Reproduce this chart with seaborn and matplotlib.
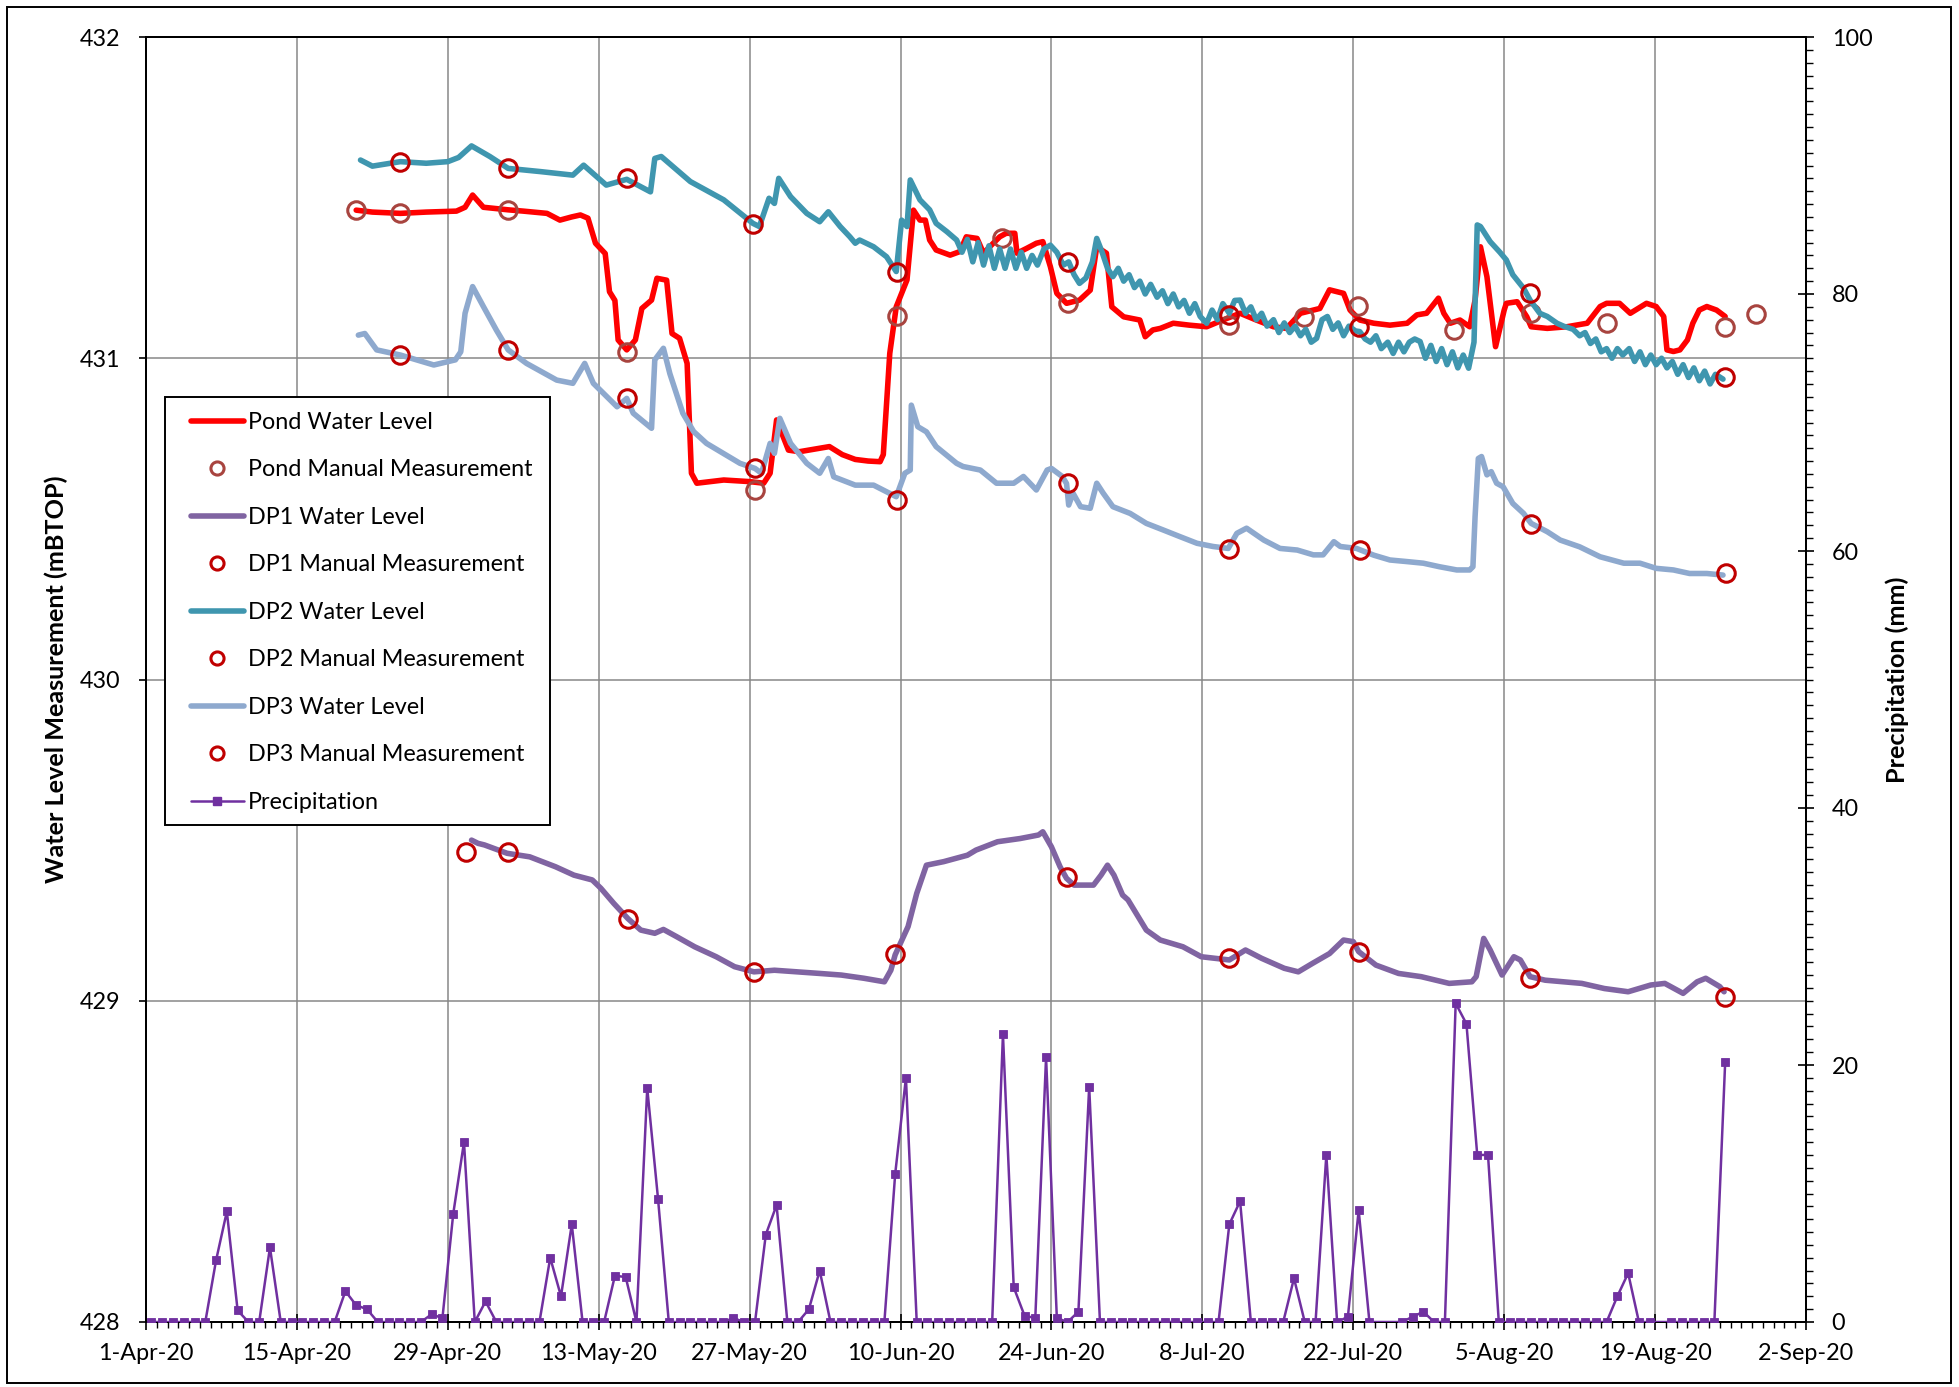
import numpy as np
import pandas as pd
import matplotlib
matplotlib.use("Agg")
import matplotlib.pyplot as plt
import matplotlib.dates as mdates
from matplotlib.lines import Line2D
from matplotlib.patches import Rectangle
from matplotlib.ticker import FixedLocator, MultipleLocator, FormatStrFormatter
import seaborn as sns

# ------------------------------------------------------------------ data
START = pd.Timestamp("2020-04-01")
X_END_DAYS = 154
TICK_STEP_DAYS = 14

# daily precipitation (mm); index 0 = 1-Apr-20 ; nan = no reading
precip_mm = [
    0, 0, 0, 0, 0, 0, 4.8, 8.6, 0.9, 0, 0, 5.8, 0, 0,            # d0-13
    0, 0, 0, 0, 2.4, 1.3, 1.0, 0, 0, 0, 0, 0, 0.6, 0.3,          # d14-27
    8.4, 14.0, 0, 1.6, 0, 0, 0, 0, 0, 5.0, 2.0, 7.6, 0, 0,       # d28-41
    0, 3.6, 3.5, 0, 18.2, 9.6, 0, 0, 0, 0, 0, 0, 0.3, 0,         # d42-55
    0, 6.8, 9.1, 0, 0, 1.0, 4.0, 0, 0, 0, 0, 0, 0, 11.5,         # d56-69
    19.0, 0, 0, 0, 0, 0, 0, 0, 0, 22.4, 2.7, 0.5, 0.3, 20.6,     # d70-83
    0.3, 0, 0.8, 18.3, 0, 0, 0, 0, 0, 0, 0, 0, 0, 0,             # d84-97
    0, 0, 7.6, 9.4, 0, 0, 0, 0, 3.4, 0, 0, 13.0, 0, 0.4,         # d98-111
    8.7, 0, np.nan, np.nan, 0, 0.4, 0.8, 0, 0, 24.8, 23.2, 13.0, 13.0, 0,  # d112-125
    0, 0, 0, 0, 0, 0, 0, 0, 0, 0, 2.0, 3.8, 0, 0,                # d126-139
    np.nan, 0, 0, 0, 0, 0, 20.2,                                 # d140-146
]

pond_day = [19.5, 21, 23.6, 26, 28.8, 29.6, 30.3, 31.3, 33.6, 35, 37.2, 38.4, 39.5, 40.3,
            41.0, 41.7, 42.6, 43.0, 43.5, 43.8, 44.6, 45.4, 46.0, 46.9, 47.4, 48.3, 48.8,
            49.5, 50.2, 50.6, 51.1, 53.6, 56.0, 57.3, 57.9, 58.5, 59.6, 60.6, 63.4, 64.6,
            65.8, 67.0, 68.1, 68.4, 69.0, 69.6, 70.6, 71.2, 71.8, 72.3, 72.7, 73.3, 74.6,
            75.5, 76.1, 77.1, 77.7, 78.6, 79.2, 79.8, 80.6, 80.8, 81.7, 82.6, 83.2, 83.9,
            84.5, 85.4, 86.6, 87.6, 88.2, 89.1, 89.6, 90.7, 92.2, 92.7, 93.4, 94.1, 95.3,
            96.8, 98.4, 99.9, 101.5, 103.0, 104.6, 105.8, 107.1, 108.9, 109.8, 111.1, 111.7,
            112.6, 113.9, 115.4, 117.0, 117.9, 118.8, 119.9, 120.4, 121.0, 121.9, 122.8,
            123.3, 123.8, 124.4, 125.2, 126.0, 126.2, 127.2, 128.1, 128.5, 130.0, 131.8,
            133.7, 134.9, 135.5, 136.7, 137.7, 139.2, 140.1, 140.8, 141.1, 141.7, 142.3,
            143.0, 143.5, 144.1, 144.8, 145.7, 146.5]
pond_level = [431.461, 431.455, 431.451, 431.455, 431.458, 431.470, 431.508, 431.470, 431.462,
              431.458, 431.451, 431.430, 431.440, 431.446, 431.436, 431.358, 431.326, 431.207,
              431.180, 431.057, 431.026, 431.057, 431.155, 431.181, 431.249, 431.243, 431.077,
              431.062, 430.984, 430.642, 430.611, 430.621, 430.616, 430.611, 430.642, 430.808,
              430.714, 430.709, 430.725, 430.700, 430.685, 430.680, 430.678, 430.700, 431.015,
              431.160, 431.244, 431.461, 431.430, 431.430, 431.368, 431.337, 431.321, 431.332,
              431.378, 431.373, 431.327, 431.358, 431.378, 431.389, 431.389, 431.327, 431.342,
              431.358, 431.363, 431.285, 431.202, 431.171, 431.181, 431.212, 431.347, 431.327,
              431.160, 431.129, 431.119, 431.067, 431.088, 431.093, 431.109, 431.103, 431.098,
              431.119, 431.140, 431.119, 431.098, 431.093, 431.140, 431.155, 431.213, 431.202,
              431.150, 431.119, 431.109, 431.103, 431.109, 431.135, 431.140, 431.187, 431.140,
              431.109, 431.119, 431.098, 431.181, 431.347, 431.254, 431.036, 431.150, 431.171,
              431.176, 431.129, 431.098, 431.093, 431.098, 431.109, 431.161, 431.171, 431.171,
              431.140, 431.171, 431.161, 431.130, 431.026, 431.021, 431.026, 431.057, 431.109,
              431.150, 431.161, 431.150, 431.130]

dp1_day = [30.2, 30.8, 31.4, 33.5, 35.6, 38.0, 39.7, 41.4, 42.2, 43.4, 44.7, 45.9, 47.2, 48.0,
           49.2, 50.9, 52.9, 54.6, 56.4, 58.3, 60.4, 62.5, 64.5, 66.6, 68.5, 69.1, 69.5, 70.7,
           71.5, 72.4, 74.0, 76.2, 77.0, 79.0, 81.1, 82.8, 83.2, 84.0, 84.8, 85.4, 86.1, 87.9,
           88.6, 89.2, 89.8, 90.6, 91.1, 92.8, 94.1, 96.2, 97.9, 100.5, 102.0, 103.5, 105.6,
           106.9, 108.2, 109.8, 111.1, 112.0, 112.5, 114.1, 116.2, 118.3, 120.9, 123.0, 123.4,
           124.1, 124.7, 125.8, 126.9, 127.5, 128.4, 129.8, 133.2, 135.3, 137.5, 139.6, 140.9,
           142.6, 143.9, 144.7, 146.0, 146.4]
dp1_level = [429.500, 429.490, 429.485, 429.459, 429.448, 429.417, 429.391, 429.376, 429.350,
             429.303, 429.256, 429.220, 429.210, 429.222, 429.200, 429.168, 429.137, 429.106,
             429.090, 429.095, 429.090, 429.085, 429.080, 429.070, 429.059, 429.095, 429.143,
             429.231, 429.334, 429.422, 429.433, 429.453, 429.469, 429.495, 429.505, 429.516,
             429.526, 429.479, 429.417, 429.381, 429.360, 429.360, 429.391, 429.422, 429.391,
             429.329, 429.314, 429.220, 429.189, 429.168, 429.137, 429.127, 429.158, 429.132,
             429.101, 429.090, 429.116, 429.147, 429.189, 429.184, 429.153, 429.111, 429.085,
             429.075, 429.054, 429.059, 429.075, 429.194, 429.158, 429.080, 429.137, 429.127,
             429.075, 429.064, 429.054, 429.038, 429.028, 429.049, 429.054, 429.023, 429.059,
             429.070, 429.044, 429.028]

dp2_day = [19.9, 21.0, 23.6, 26.0, 28.0, 29.0, 30.2, 31.9, 33.6, 36.6, 39.6, 40.6, 42.7, 44.6,
           46.8, 47.2, 47.8, 50.5, 53.6, 56.3, 56.9, 57.8, 58.3, 58.7, 59.8, 61.3, 62.5, 63.3,
           64.4, 65.3, 65.8, 66.2, 67.5, 68.7, 69.6, 70.1, 70.6, 70.9, 71.8, 72.7, 73.3, 74.3,
           75.2, 75.7, 76.2, 76.7, 77.2, 77.7, 78.2, 78.7, 79.2, 79.7, 80.2, 80.7, 81.2, 81.7,
           82.2, 82.7, 83.3, 83.9, 84.5, 85.1, 85.6, 86.1, 86.6, 87.2, 87.8, 88.2, 88.7, 89.2,
           89.7, 90.2, 90.7, 91.2, 91.7, 92.2, 92.7, 93.2, 93.8, 94.3, 94.8, 95.3, 95.8, 96.3,
           96.8, 97.3, 97.8, 98.4, 98.9, 99.4, 99.9, 100.5, 101.0, 101.5, 102.0, 102.5, 103.0,
           103.5, 104.0, 104.6, 105.1, 105.6, 106.1, 106.6, 107.1, 107.6, 108.1, 108.6, 109.1,
           109.6, 110.1, 110.6, 111.1, 111.6, 112.2, 112.6, 113.1, 113.6, 114.1, 114.6, 115.2,
           115.7, 116.2, 116.7, 117.2, 117.7, 118.2, 118.7, 119.2, 119.7, 120.2, 120.7, 121.2,
           121.7, 122.2, 122.7, 123.2, 123.5, 123.8, 124.7, 125.6, 126.2, 126.8, 127.8, 128.4,
           129.3, 130.0, 130.9, 131.5, 132.4, 133.0, 133.5, 134.0, 134.5, 135.0, 135.5, 136.0,
           136.5, 137.0, 137.6, 138.1, 138.6, 139.1, 139.6, 140.1, 140.6, 141.1, 141.6, 142.1,
           142.6, 143.1, 143.6, 144.1, 144.6, 145.1, 145.6, 146.3]
dp2_level = [431.617, 431.598, 431.612, 431.607, 431.612, 431.625, 431.661, 431.628, 431.591,
             431.581, 431.570, 431.601, 431.539, 431.557, 431.518, 431.622, 431.628, 431.550,
             431.493, 431.420, 431.410, 431.498, 431.482, 431.560, 431.503, 431.451, 431.425,
             431.456, 431.410, 431.378, 431.358, 431.368, 431.347, 431.316, 431.270, 431.430,
             431.410, 431.555, 431.493, 431.462, 431.420, 431.394, 431.368, 431.33, 431.37,
             431.30, 431.36, 431.29, 431.35, 431.28, 431.34, 431.28, 431.34, 431.28, 431.33,
             431.28, 431.32, 431.29, 431.34, 431.352, 431.33, 431.29, 431.30, 431.26, 431.233,
             431.25, 431.30, 431.373, 431.33, 431.28, 431.254, 431.28, 431.24, 431.26, 431.22,
             431.24, 431.20, 431.23, 431.19, 431.21, 431.17, 431.20, 431.16, 431.18, 431.14,
             431.17, 431.13, 431.109, 431.15, 431.12, 431.17, 431.14, 431.18, 431.181, 431.14,
             431.16, 431.12, 431.14, 431.10, 431.12, 431.08, 431.11, 431.08, 431.10, 431.07,
             431.09, 431.05, 431.062, 431.12, 431.13, 431.09, 431.11, 431.07, 431.10, 431.085,
             431.083, 431.06, 431.05, 431.07, 431.03, 431.05, 431.015, 431.05, 431.02, 431.05,
             431.06, 431.052, 431.00, 431.04, 430.99, 431.03, 430.98, 431.02, 430.97, 431.01,
             430.969, 431.05, 431.415, 431.41, 431.363, 431.33, 431.306, 431.26, 431.218,
             431.181, 431.14, 431.13, 431.109, 431.10, 431.09, 431.07, 431.08, 431.046, 431.06,
             431.02, 431.03, 431.00, 431.03, 431.01, 431.03, 430.99, 431.02, 430.98, 431.01,
             430.98, 431.00, 430.97, 430.99, 430.95, 430.98, 430.94, 430.97, 430.93, 430.96,
             430.92, 430.95, 430.935]

dp3_day = [19.7, 20.3, 21.4, 23.6, 26.7, 28.7, 29.2, 29.6, 30.3, 31.3, 32.5, 33.6, 35.3, 38.1,
           39.6, 40.7, 41.5, 43.7, 44.6, 45.2, 46.9, 47.2, 48.0, 48.6, 49.8, 50.8, 52.0, 55.1,
           56.5, 57.1, 57.9, 58.3, 58.8, 59.8, 61.3, 62.5, 63.3, 63.8, 65.8, 67.5, 69.6, 70.4,
           70.9, 71.0, 71.6, 72.4, 73.3, 75.2, 75.8, 77.4, 78.9, 80.5, 81.4, 82.6, 83.6, 84.0,
           85.0, 85.4, 85.6, 86.0, 86.7, 87.6, 88.2, 88.8, 89.7, 91.3, 92.8, 94.4, 95.9, 97.5,
           99.0, 100.4, 101.2, 102.1, 103.7, 105.2, 106.8, 108.3, 109.2, 110.2, 110.8, 112.3,
           113.9, 115.4, 117.0, 118.5, 120.0, 121.6, 122.8, 123.1, 123.3, 123.6, 123.9, 124.4,
           124.8, 125.3, 125.9, 126.8, 127.8, 128.5, 130.0, 131.2, 133.0, 134.9, 137.1, 138.6,
           140.1, 141.7, 143.2, 144.8, 146.3]
dp3_level = [431.072, 431.077, 431.026, 431.010, 430.979, 430.995, 431.020, 431.140, 431.223,
             431.161, 431.088, 431.026, 430.984, 430.932, 430.922, 430.984, 430.922, 430.849,
             430.875, 430.829, 430.782, 430.995, 431.031, 430.952, 430.829, 430.772, 430.735,
             430.673, 430.657, 430.642, 430.735, 430.704, 430.813, 430.735, 430.673, 430.642,
             430.688, 430.631, 430.605, 430.605, 430.569, 430.642, 430.652, 430.854, 430.787,
             430.771, 430.725, 430.673, 430.663, 430.652, 430.611, 430.611, 430.632, 430.590,
             430.652, 430.657, 430.632, 430.610, 430.543, 430.580, 430.538, 430.533, 430.611,
             430.580, 430.538, 430.517, 430.486, 430.465, 430.445, 430.424, 430.414, 430.408,
             430.455, 430.471, 430.434, 430.408, 430.403, 430.388, 430.388, 430.429, 430.414,
             430.408, 430.387, 430.372, 430.367, 430.362, 430.351, 430.341, 430.341, 430.351,
             430.507, 430.688, 430.694, 430.637, 430.647, 430.611, 430.600, 430.548, 430.517,
             430.486, 430.460, 430.434, 430.413, 430.382, 430.362, 430.362, 430.346, 430.341,
             430.330, 430.330, 430.325]

pond_manual_day = [19.5, 23.6, 33.6, 44.6, 56.5, 69.7, 79.4, 85.5, 100.5, 107.4, 112.4, 121.3,
                   128.5, 135.5, 146.5, 149.4]
pond_manual = [431.461, 431.451, 431.461, 431.021, 430.590, 431.130, 431.373, 431.171, 431.103,
               431.127, 431.163, 431.088, 431.140, 431.109, 431.098, 431.138]
dp1_manual_day = [29.7, 33.6, 44.7, 56.4, 69.5, 85.4, 100.5, 112.5, 128.4, 146.5]
dp1_manual = [429.464, 429.464, 429.253, 429.091, 429.145, 429.384, 429.132, 429.153, 429.070,
              429.013]
dp2_manual_day = [23.6, 33.6, 44.6, 56.3, 69.7, 85.5, 100.5, 112.5, 128.4, 146.5]
dp2_manual = [431.612, 431.591, 431.560, 431.418, 431.270, 431.301, 431.135, 431.098, 431.202,
              430.941]
dp3_manual_day = [23.6, 33.6, 44.6, 56.5, 69.7, 85.5, 100.5, 112.6, 128.5, 146.6]
dp3_manual = [431.010, 431.026, 430.875, 430.657, 430.559, 430.612, 430.405, 430.403, 430.484,
              430.332]

labels = ["Pond Water Level", "Pond Manual Measurement", "DP1 Water Level",
          "DP1 Manual Measurement", "DP2 Water Level", "DP2 Manual Measurement",
          "DP3 Water Level", "DP3 Manual Measurement", "Precipitation"]

# ------------------------------------------------------------------ style
C_POND = "#FF0000"
C_POND_M = "#A8443F"
C_DP1 = "#8064A2"
C_MAN = "#C00000"
C_DP2 = "#3F96AF"
C_DP3 = "#8EA9CE"
C_PRE = "#7030A0"
C_GRID = "#878787"

sns.set_theme(style="ticks")
plt.rcParams["font.family"] = ["Lato", "DejaVu Sans"]
plt.rcParams["text.color"] = "black"
plt.rcParams["axes.labelcolor"] = "black"
plt.rcParams["xtick.color"] = "black"
plt.rcParams["ytick.color"] = "black"

FS = 16.8
FS_LAB = 18.2
LW = 4.0
MS = 12.6
MEW = 2.2

W, H = 1959, 1387
fig = plt.figure(figsize=(W / 100, H / 100), dpi=100)
ax = fig.add_axes([146 / W, 1 - 1322 / H, 1660 / W, 1285 / H])


def to_dates(days):
    return START + pd.to_timedelta(np.asarray(days, dtype=float), unit="D")


def level_line(days, vals, color, z):
    sns.lineplot(x=to_dates(days), y=vals, ax=ax, color=color, lw=LW,
                 estimator=None, sort=False, zorder=z, legend=False)


def manual_pts(days, vals, color, z):
    sns.lineplot(x=to_dates(days), y=vals, ax=ax, color=color, linestyle="none",
                 marker="o", markersize=MS, markerfacecolor="none",
                 markeredgecolor=color, markeredgewidth=MEW,
                 estimator=None, sort=False, zorder=z, legend=False)


level_line(pond_day, pond_level, C_POND, 3)
manual_pts(pond_manual_day, pond_manual, C_POND_M, 4)
level_line(dp1_day, dp1_level, C_DP1, 5)
manual_pts(dp1_manual_day, dp1_manual, C_MAN, 6)
level_line(dp2_day, dp2_level, C_DP2, 7)
manual_pts(dp2_manual_day, dp2_manual, C_MAN, 8)
level_line(dp3_day, dp3_level, C_DP3, 9)
manual_pts(dp3_manual_day, dp3_manual, C_MAN, 10)

ax2 = ax.twinx()
pre = pd.DataFrame({"day": np.arange(len(precip_mm)) + 0.5, "mm": precip_mm}).dropna()
sns.lineplot(x=to_dates(pre["day"]), y=pre["mm"].values, ax=ax2, color=C_PRE, lw=1.8,
             marker="s", markersize=6.3, markeredgecolor=C_PRE, markeredgewidth=0.6,
             estimator=None, sort=False, legend=False, zorder=3)

# ------------------------------------------------------------------ axes
x0 = mdates.date2num(START)
ax.set_xlim(x0, x0 + X_END_DAYS)
ax.set_ylim(428, 432)
ax2.set_ylim(0, 100)

ax.xaxis.set_major_locator(FixedLocator([x0 + d for d in range(0, X_END_DAYS + 1, TICK_STEP_DAYS)]))
ax.xaxis.set_minor_locator(FixedLocator([x0 + d for d in range(0, X_END_DAYS + 1)]))
ax.xaxis.set_major_formatter(mdates.DateFormatter("%-d-%b-%y"))
ax.yaxis.set_major_locator(MultipleLocator(1))
ax.yaxis.set_major_formatter(FormatStrFormatter("%d"))
ax2.yaxis.set_major_locator(MultipleLocator(20))
ax2.yaxis.set_minor_locator(MultipleLocator(1))

ax.grid(True, which="major", axis="both", color=C_GRID, lw=1.1)
ax2.grid(False)

ax.tick_params(axis="x", which="major", direction="inout", length=11, width=1.2,
               pad=9.5, labelsize=FS, bottom=True)
ax.tick_params(axis="x", which="minor", direction="out", length=4.5, width=1.0, bottom=True)
ax.tick_params(axis="y", which="major", direction="out", length=5, width=1.2,
               pad=13.5, labelsize=FS, left=True)
ax2.tick_params(axis="y", which="major", direction="inout", length=11, width=1.2,
                pad=13, labelsize=FS, right=True)
ax2.tick_params(axis="y", which="minor", direction="out", length=5, width=1.0, right=True)

for a in (ax, ax2):
    for s in a.spines.values():
        s.set_color("black")
        s.set_linewidth(1.4)
        s.set_visible(True)

ax.set_xlabel("")
ax.set_ylabel("Water Level Measurement (mBTOP)", fontsize=FS_LAB, fontweight="bold")
ax.yaxis.set_label_coords((56 - 146) / 1660, 0.5)
ax.yaxis.label.set_va("center")
ax2.set_ylabel("Precipitation (mm)", fontsize=FS_LAB, fontweight="bold", rotation=90)
ax2.yaxis.set_label_coords((1897 - 146) / 1660, 0.5)
ax2.yaxis.label.set_va("center")

# ------------------------------------------------------------------ legend
handles = [
    Line2D([], [], color=C_POND, lw=LW),
    Line2D([], [], ls="none", marker="o", ms=MS * 0.75, mfc="none", mec=C_POND_M, mew=MEW),
    Line2D([], [], color=C_DP1, lw=LW),
    Line2D([], [], ls="none", marker="o", ms=MS * 0.75, mfc="none", mec=C_MAN, mew=MEW),
    Line2D([], [], color=C_DP2, lw=LW),
    Line2D([], [], ls="none", marker="o", ms=MS * 0.75, mfc="none", mec=C_MAN, mew=MEW),
    Line2D([], [], color=C_DP3, lw=LW),
    Line2D([], [], ls="none", marker="o", ms=MS * 0.75, mfc="none", mec=C_MAN, mew=MEW),
    Line2D([], [], color=C_PRE, lw=1.8, marker="s", ms=6.3, mec=C_PRE),
]
box = Rectangle((165 / W, 1 - 825 / H), 385 / W, 428 / H, transform=fig.transFigure,
                facecolor="white", edgecolor="black", lw=1.4, zorder=20)
ax2.add_patch(box)
leg = ax2.legend(handles, labels, loc="upper left",
                 bbox_to_anchor=(191 / W, 1 - 412 / H), bbox_transform=fig.transFigure,
                 frameon=False, fontsize=FS, handlelength=2.25, handletextpad=0.2,
                 labelspacing=1.135, borderpad=0, borderaxespad=0)
leg.set_zorder(30)

# figure border
fig.add_artist(Rectangle((7 / W, 1 - 1383 / H), 1944 / W, 1376 / H, transform=fig.transFigure,
                         fill=False, edgecolor="black", lw=1.4))

fig.savefig("out.png", dpi=100)
